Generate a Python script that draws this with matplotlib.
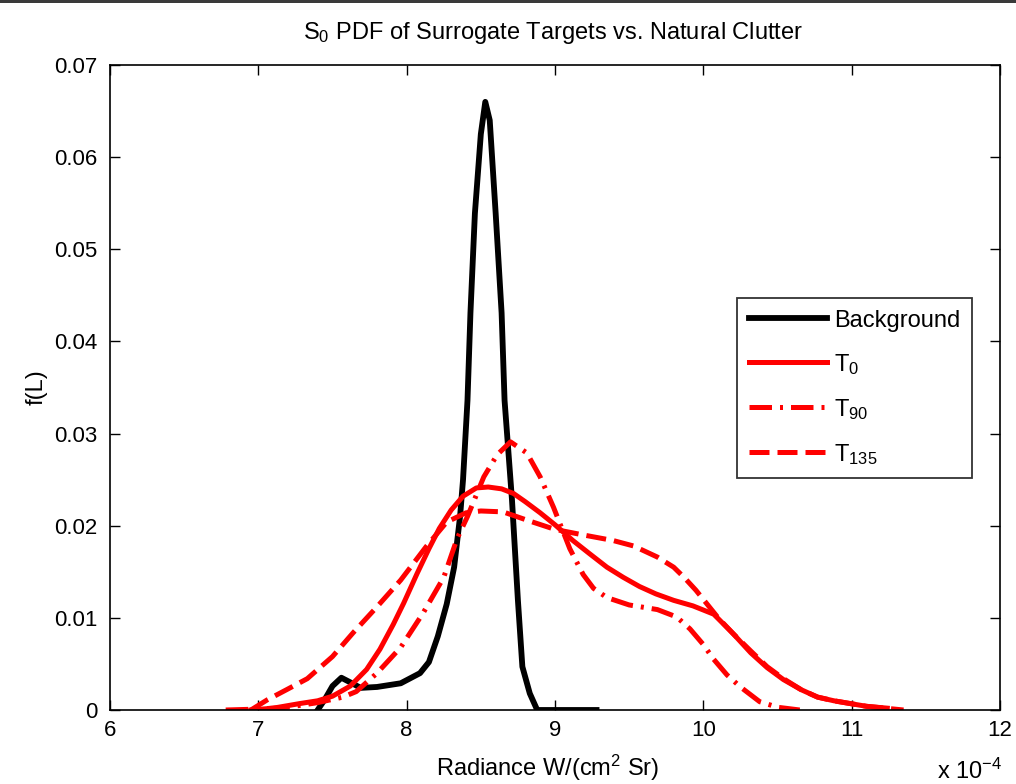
import matplotlib
matplotlib.use("Agg")
import matplotlib.pyplot as plt
from matplotlib.patches import Rectangle

plt.rcParams['font.family'] = ['Liberation Sans', 'DejaVu Sans']
plt.rcParams['mathtext.fontset'] = 'custom'
plt.rcParams['mathtext.rm'] = 'Liberation Sans'
plt.rcParams['mathtext.it'] = 'Liberation Sans'
plt.rcParams['mathtext.default'] = 'regular'

# Radiance in units of 1e-4 W/(cm^2 Sr)
background_x = [7.40, 7.45, 7.50, 7.56, 7.62, 7.69, 7.80, 7.96, 8.09, 8.15, 8.21, 8.27, 8.32,
                8.36, 8.38, 8.41, 8.43, 8.46, 8.50, 8.53, 8.56, 8.60, 8.64, 8.66, 8.71, 8.75,
                8.78, 8.83, 8.88, 9.28]
background_y = [0.0, 0.0012, 0.0026, 0.0035, 0.0030, 0.0024, 0.0025, 0.0029, 0.0040, 0.0052,
                0.0080, 0.0115, 0.0155, 0.0210, 0.0250, 0.0336, 0.0431, 0.0539, 0.0625, 0.0660,
                0.0640, 0.0539, 0.0431, 0.0336, 0.0228, 0.0119, 0.0047, 0.0018, 0.0, 0.0]

t0_x = [6.95, 7.10, 7.28, 7.40, 7.50, 7.62, 7.73, 7.82, 7.91, 7.98, 8.07, 8.15, 8.22, 8.30,
        8.38, 8.47, 8.55, 8.64, 8.72, 8.80, 8.90, 9.00, 9.12, 9.23, 9.35, 9.46, 9.57, 9.68,
        9.80, 9.93, 10.07, 10.20, 10.32, 10.43, 10.54, 10.66, 10.77, 10.88, 10.99, 11.10, 11.24]
t0_y = [0.0, 0.0002, 0.0007, 0.0010, 0.0015, 0.0026, 0.0044, 0.0066, 0.0093, 0.0116, 0.0148,
        0.0175, 0.0197, 0.0217, 0.0232, 0.0241, 0.0242, 0.0240, 0.0235, 0.0226, 0.0214, 0.0201,
        0.0184, 0.0170, 0.0155, 0.0144, 0.0134, 0.0126, 0.0119, 0.0113, 0.0104, 0.0083, 0.0062,
        0.0046, 0.0033, 0.0022, 0.0014, 0.0010, 0.0007, 0.0004, 0.0002]

t90_x = [6.78, 7.00, 7.20, 7.40, 7.57, 7.66, 7.80, 7.96, 8.11, 8.25, 8.34, 8.41, 8.52, 8.61,
         8.70, 8.81, 8.90, 8.99, 9.10, 9.19, 9.26, 9.35, 9.50, 9.69, 9.82, 9.91, 10.00, 10.07,
         10.16, 10.25, 10.38, 10.50, 10.65]
t90_y = [0.0, 0.0001, 0.0003, 0.0008, 0.0014, 0.0020, 0.0040, 0.0068, 0.0105, 0.0144, 0.0186,
         0.0210, 0.0253, 0.0277, 0.0291, 0.0279, 0.0253, 0.0220, 0.0175, 0.0147, 0.0132, 0.0122,
         0.0114, 0.0109, 0.0101, 0.0088, 0.0071, 0.0055, 0.0038, 0.0025, 0.0009, 0.0003, 0.0]

t135_x = [6.95, 7.06, 7.19, 7.33, 7.50, 7.64, 7.80, 7.96, 8.13, 8.27, 8.40, 8.50, 8.65, 8.83,
          9.00, 9.19, 9.39, 9.53, 9.69, 9.80, 9.87, 9.95, 10.02, 10.10, 10.20, 10.32, 10.43,
          10.54, 10.66, 10.77, 10.88, 10.99, 11.10, 11.35]
t135_y = [0.0, 0.0011, 0.0022, 0.0034, 0.0058, 0.0084, 0.0112, 0.0141, 0.0177, 0.0204, 0.0214,
          0.0216, 0.0215, 0.0205, 0.0196, 0.0190, 0.0184, 0.0178, 0.0166, 0.0155, 0.0144, 0.0130,
          0.0116, 0.0100, 0.0083, 0.0064, 0.0047, 0.0034, 0.0022, 0.0014, 0.0010, 0.0007, 0.0004,
          0.0]

x_ticks = [6, 7, 8, 9, 10, 11, 12]
y_ticks = [0, 0.01, 0.02, 0.03, 0.04, 0.05, 0.06, 0.07]
y_tick_labels = ['0', '0.01', '0.02', '0.03', '0.04', '0.05', '0.06', '0.07']

W, H = 1016, 784
fig = plt.figure(figsize=(W / 100, H / 100), dpi=100)
fig.patch.set_facecolor('white')
fig.add_artist(Rectangle((0, 1 - 3 / H), 1, 3 / H, transform=fig.transFigure,
                         facecolor='#3a3a3a', edgecolor='none'))

ax = fig.add_axes([110 / W, 74 / H, 890 / W, 645 / H])

ax.plot(background_x, background_y, color='black', lw=4.2, label='Background',
        solid_joinstyle='round')
ax.plot(t0_x, t0_y, color='red', lw=3.6, label='T$_0$', solid_joinstyle='round')
ax.plot(t90_x, t90_y, color='red', lw=3.6, label='T$_{90}$',
        dashes=(4.5, 1.6, 0.6, 1.6))
ax.plot(t135_x, t135_y, color='red', lw=3.6, label='T$_{135}$', dashes=(4.0, 1.6))

ax.set_xlim(6, 12)
ax.set_ylim(0, 0.07)
ax.set_xticks(x_ticks)
ax.set_xticklabels([str(t) for t in x_ticks])
ax.set_yticks(y_ticks)
ax.set_yticklabels(y_tick_labels)
ax.tick_params(direction='in', top=True, right=True, length=7, width=1.0,
               labelsize=16, color='black')
ax.tick_params(axis='x', pad=7)
ax.tick_params(axis='y', pad=9)
for s in ax.spines.values():
    s.set_linewidth(1.2)

ax.set_xlabel('Radiance W/(cm$^2$ Sr)', fontsize=17)
ax.xaxis.set_label_coords(0.492, -0.066)
ax.set_ylabel('f(L)', fontsize=17)
ax.yaxis.set_label_coords(-0.07, 0.5)

fig.text(553 / W, 1 - 39 / H, 'S$_0$ PDF of Surrogate Targets vs. Natural Clutter',
         ha='center', va='baseline', fontsize=17)
fig.text(1002 / W, 1 - 779 / H, 'x 10$^{-4}$', ha='right', va='baseline', fontsize=17)

leg = ax.legend(loc='upper right', bbox_to_anchor=(0.9685, 0.639), fontsize=17,
                frameon=True, fancybox=False, edgecolor='black', handlelength=3.3,
                borderpad=0.5, labelspacing=0.85, handletextpad=0.3, borderaxespad=0)
leg.get_frame().set_linewidth(1.3)

fig.savefig('out.png', dpi=100)
